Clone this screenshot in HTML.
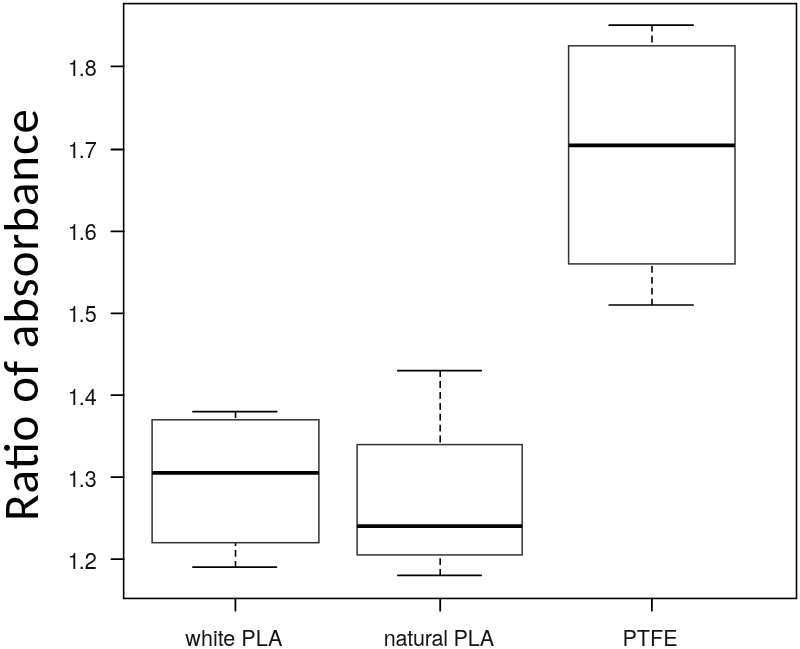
<!DOCTYPE html>
<html>
<head>
<meta charset="utf-8">
<style>
html,body{margin:0;padding:0;background:#fff;}
body{width:800px;height:649px;overflow:hidden;}
svg{display:block;will-change:transform;}
.ax{font-family:"TeX Gyre Heros","Liberation Sans",Arial,sans-serif;font-size:21.6px;fill:#141414;}
.yl{font-family:"Carlito","Liberation Sans",sans-serif;font-size:49px;fill:#000;}
</style>
</head>
<body>
<svg width="800" height="649" viewBox="0 0 800 649">
<rect x="0" y="0" width="800" height="649" fill="#fff"/>
<!-- frame -->
<rect x="123.65" y="3.6" width="672.85" height="594.85" fill="none" stroke="#000" stroke-width="1.6"/>
<!-- y ticks -->
<g stroke="#000" stroke-width="1.8" stroke-linecap="round">
<line x1="111.4" y1="66.3" x2="123.7" y2="66.3"/>
<line x1="111.4" y1="149.5" x2="123.7" y2="149.5"/>
<line x1="111.4" y1="231.4" x2="123.7" y2="231.4"/>
<line x1="111.4" y1="313.3" x2="123.7" y2="313.3"/>
<line x1="111.4" y1="395.2" x2="123.7" y2="395.2"/>
<line x1="111.4" y1="477.1" x2="123.7" y2="477.1"/>
<line x1="111.4" y1="559.1" x2="123.7" y2="559.1"/>
<!-- x ticks -->
<line x1="235.4" y1="598.6" x2="235.4" y2="610.7"/>
<line x1="440.2" y1="598.6" x2="440.2" y2="610.7"/>
<line x1="651.9" y1="598.6" x2="651.9" y2="610.7"/>
</g>
<!-- y tick labels -->
<g class="ax">
<text transform="translate(66.85,75.95) scale(1,1.05)"><tspan dx="1">1</tspan><tspan dx="-1">.8</tspan></text>
<text transform="translate(66.85,158.05) scale(1,1.05)"><tspan dx="1">1</tspan><tspan dx="-1">.7</tspan></text>
<text transform="translate(66.85,239.9) scale(1,1.05)"><tspan dx="1">1</tspan><tspan dx="-1">.6</tspan></text>
<text transform="translate(66.85,321.85) scale(1,1.05)"><tspan dx="1">1</tspan><tspan dx="-1">.5</tspan></text>
<text transform="translate(66.85,405.1) scale(1,1.05)"><tspan dx="1">1</tspan><tspan dx="-1">.4</tspan></text>
<text transform="translate(66.85,486.9) scale(1,1.05)"><tspan dx="1">1</tspan><tspan dx="-1">.3</tspan></text>
<text transform="translate(66.85,568.95) scale(1,1.05)"><tspan dx="1">1</tspan><tspan dx="-1">.2</tspan></text>
</g>
<!-- x labels -->
<g class="ax" text-anchor="middle">
<text transform="translate(233.9,645.5) scale(1,1.02)">white PLA</text>
<text transform="translate(438.9,645.6) scale(1,1.02)" textLength="110.4" lengthAdjust="spacing">natural PLA</text>
<text transform="translate(650.0,645.5) scale(1,1.02)">PTFE</text>
</g>
<!-- y label -->
<text class="yl" transform="translate(38,521) rotate(-90)" textLength="412" lengthAdjust="spacing">Ratio of absorbance</text>

<!-- boxes -->
<g fill="none">
<!-- white PLA -->
<g>
<line x1="235.5" y1="411.7" x2="235.5" y2="419.8" stroke="#000" stroke-width="1.6" stroke-dasharray="6.8 4.1" stroke-dashoffset="0.5"/>
<line x1="235.5" y1="567.2" x2="235.5" y2="542.7" stroke="#000" stroke-width="1.6" stroke-dasharray="6.8 4.1" stroke-dashoffset="0.5"/>
<line x1="193" y1="411.7" x2="276.6" y2="411.7" stroke="#000" stroke-width="1.7" stroke-linecap="round"/>
<line x1="193" y1="567.2" x2="276.4" y2="567.2" stroke="#000" stroke-width="1.7" stroke-linecap="round"/>
<rect x="152.1" y="419.8" width="166.8" height="122.9" stroke="#333" stroke-width="1.5"/>
<line x1="152.1" y1="472.9" x2="318.9" y2="472.9" stroke="#000" stroke-width="3.8"/>
</g>
<!-- natural PLA -->
<g>
<line x1="440.2" y1="370.7" x2="440.2" y2="444.6" stroke="#000" stroke-width="1.6" stroke-dasharray="6.8 4.1" stroke-dashoffset="0.5"/>
<line x1="440.2" y1="575.4" x2="440.2" y2="554.9" stroke="#000" stroke-width="1.6" stroke-dasharray="6.8 4.1" stroke-dashoffset="0.5"/>
<line x1="397.8" y1="370.7" x2="481.3" y2="370.7" stroke="#000" stroke-width="1.7" stroke-linecap="round"/>
<line x1="397.9" y1="575.4" x2="481.2" y2="575.4" stroke="#000" stroke-width="1.7" stroke-linecap="round"/>
<rect x="357.1" y="444.6" width="165.1" height="110.3" stroke="#333" stroke-width="1.5"/>
<line x1="357.1" y1="526.2" x2="522.2" y2="526.2" stroke="#000" stroke-width="3.8"/>
</g>
<!-- PTFE -->
<g>
<line x1="652" y1="25.2" x2="652" y2="45.8" stroke="#000" stroke-width="1.6" stroke-dasharray="6.8 4.1" stroke-dashoffset="0.5"/>
<line x1="652" y1="305" x2="652" y2="263.9" stroke="#000" stroke-width="1.6" stroke-dasharray="6.8 4.1" stroke-dashoffset="0.5"/>
<line x1="609.2" y1="25.2" x2="693.1" y2="25.2" stroke="#000" stroke-width="1.7" stroke-linecap="round"/>
<line x1="609.2" y1="305" x2="693.1" y2="305" stroke="#000" stroke-width="1.7" stroke-linecap="round"/>
<rect x="568.6" y="45.8" width="166.4" height="218.1" stroke="#333" stroke-width="1.5"/>
<line x1="568.6" y1="145.4" x2="735" y2="145.4" stroke="#000" stroke-width="3.8"/>
</g>
</g>
</svg>
</body>
</html>
